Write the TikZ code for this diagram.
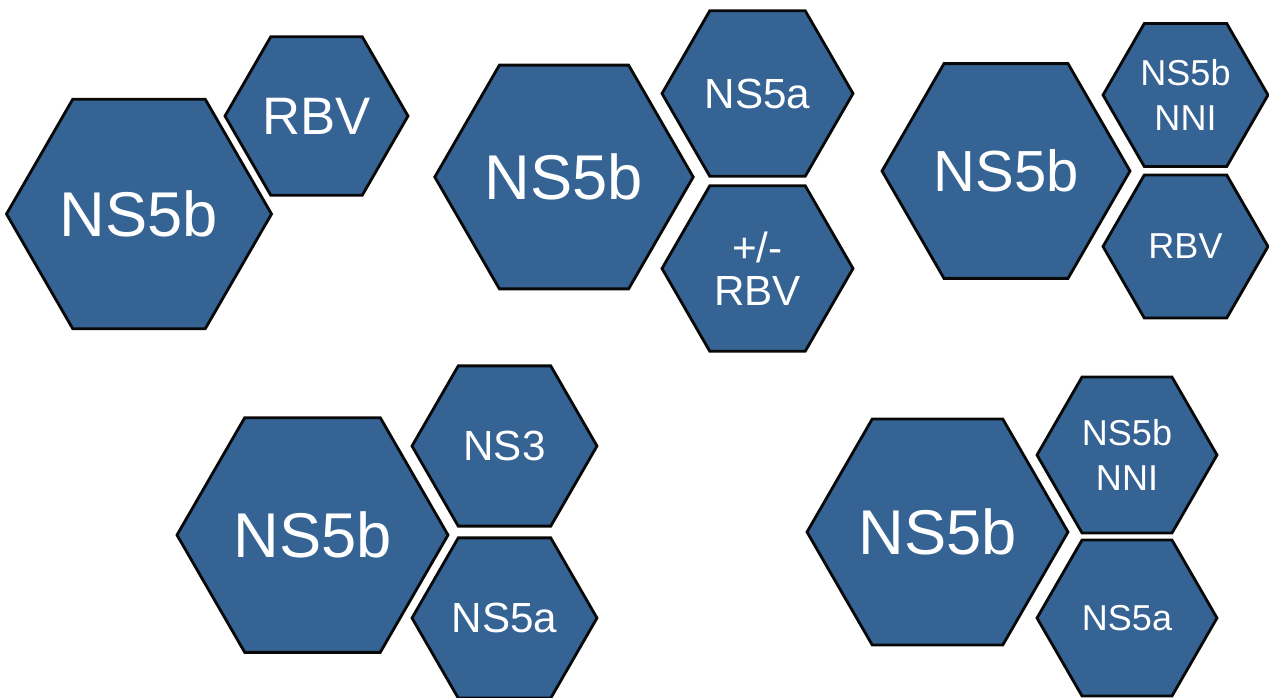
\documentclass[tikz,border=0pt]{standalone}
\usepackage{fontspec}
\setmainfont{Liberation Sans}
\usepackage{tikz}
\usepackage{xcolor}
\usetikzlibrary{shapes.geometric}
\definecolor{hexblue}{RGB}{52,99,148}
\definecolor{hexline}{RGB}{8,8,8}

\tikzset{
  hex/.style={regular polygon, regular polygon sides=6, fill=hexblue, draw=hexline,
    line width=1.6pt, text=white, inner sep=0pt, align=center},
  bigtext/.style={font=\fontsize{36}{40}\selectfont},
  midtext/.style={font=\fontsize{24}{24.5}\selectfont},
  smalltext/.style={font=\fontsize{20.5}{25.5}\selectfont}
}

\begin{document}
\begin{tikzpicture}

\useasboundingbox (0,0) rectangle (25.38,-13.94);

% 1. NS5b + RBV (top left)
\node[hex, bigtext, minimum size=5.30cm] (bigA) at (2.78,-4.28) {NS5b};
\node[hex, font=\fontsize{30}{32}\selectfont, minimum size=3.66cm] (rbvA) at (6.33,-2.32) {RBV};

% 2. NS5b + NS5a +/- RBV (top centre)
\node[hex, bigtext, minimum size=5.16cm] (bigB) at (11.28,-3.54) {NS5b};
\node[hex, midtext, minimum size=3.82cm] (nsaB) at (15.15,-1.87) {NS5a};
\node[hex, midtext, minimum size=3.82cm] (rbvB) at (15.15,-5.37) {+/-\\RBV};

% 3. NS5b + NS5b NNI + RBV (top right)
\node[hex, font=\fontsize{33}{36}\selectfont, minimum size=4.96cm] (bigC) at (20.12,-3.42) {NS5b};
\node[hex, smalltext, minimum size=3.30cm] (nniC) at (23.71,-1.90) {NS5b\\NNI};
\node[hex, smalltext, minimum size=3.30cm] (rbvC) at (23.71,-4.93) {RBV};

% 4. NS5b + NS3 + NS5a (bottom left)
\node[hex, bigtext, minimum size=5.42cm] (bigD) at (6.25,-10.70) {NS5b};
\node[hex, midtext, minimum size=3.70cm] (ns3D) at (10.09,-8.92) {NS3};
\node[hex, midtext, minimum size=3.70cm] (nsaD) at (10.09,-12.36) {NS5a};

% 5. NS5b + NS5b NNI + NS5a (bottom right)
\node[hex, bigtext, minimum size=5.22cm] (bigE) at (18.75,-10.64) {NS5b};
\node[hex, smalltext, minimum size=3.60cm] (nniE) at (22.54,-9.10) {NS5b\\NNI};
\node[hex, smalltext, minimum size=3.60cm] (nsaE) at (22.54,-12.36) {NS5a};

\end{tikzpicture}
\end{document}
